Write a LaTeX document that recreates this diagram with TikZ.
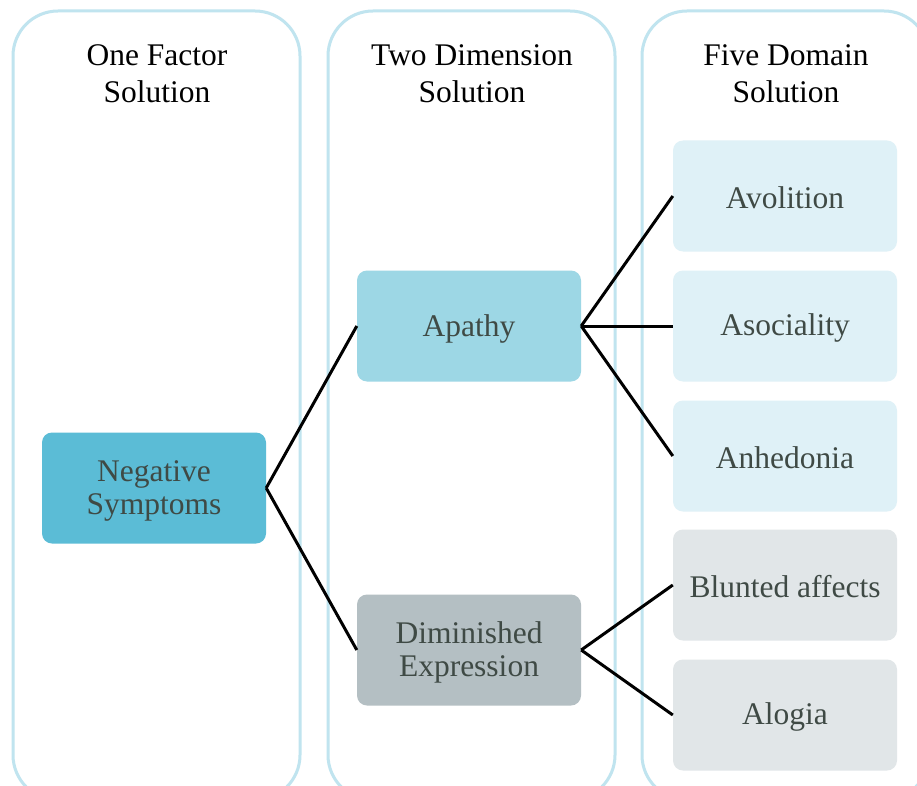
\documentclass[tikz,border=0pt]{standalone}
\usepackage{fontspec}
\setmainfont{Liberation Serif}
\newfontfamily\myserif{Liberation Serif}
\definecolor{colline}{HTML}{C0E4EF}
\definecolor{txtdark}{HTML}{3F4A45}
\definecolor{cNeg}{HTML}{5BBCD6}
\definecolor{cApathy}{HTML}{9DD7E5}
\definecolor{cDim}{HTML}{B4BFC3}
\definecolor{cLight}{HTML}{DFF1F7}
\definecolor{cGrey}{HTML}{E1E6E8}
\begin{document}
\begin{tikzpicture}[x=1pt,y=-1pt,
  column/.style={draw=colline,line width=3pt,rounded corners=45pt},
  box/.style={rounded corners=10pt,minimum width=224pt,minimum height=111pt,inner sep=0pt},
  boxtext/.style={inner sep=0pt,align=center,text=txtdark,font=\myserif\fontsize{31.5}{33}\selectfont},
  title/.style={align=center,text=black,font=\myserif\fontsize{31.5}{37}\selectfont,anchor=north},
  link/.style={line width=3pt,black}]
\useasboundingbox (0,0) rectangle (917,786);
\clip (0,0) rectangle (917,786);
\fill[white] (0,0) rectangle (917,786);
% columns
\draw[column] (13,11) rectangle (300,800);
\draw[column] (328,11) rectangle (615,800);
\draw[column] (642,11) rectangle (929,800);
% titles
\node[title] (t1) at (157,41) {One Factor\\Solution};
\node[title] (t2) at (472,41) {Two Dimension\\Solution};
\node[title] (t3) at (786,41) {Five Domain\\Solution};
% boxes
\node[box,fill=cNeg] (neg) at (154,488) {};
\node[box,fill=cApathy] (apa) at (469,326) {};
\node[box,fill=cDim] (dim) at (469,650) {};
\node[box,fill=cLight] (avo) at (785,196) {};
\node[box,fill=cLight] (aso) at (785,326) {};
\node[box,fill=cLight] (anh) at (785,456) {};
\node[box,fill=cGrey] (blu) at (785,585) {};
\node[box,fill=cGrey] (alo) at (785,715) {};
% box texts
\node[boxtext] (negT) at ([yshift=-2.5pt]neg.center) {Negative\\Symptoms};
\node[boxtext] (apaT) at ([yshift=-3pt]apa.center) {Apathy};
\node[boxtext] (dimT) at ([yshift=-2.5pt]dim.center) {Diminished\\Expression};
\node[boxtext] (avoT) at ([yshift=-1.5pt]avo.center) {Avolition};
\node[boxtext] (asoT) at ([yshift=-1.5pt]aso.center) {Asociality};
\node[boxtext] (anhT) at ([yshift=-1.5pt]anh.center) {Anhedonia};
\node[boxtext] (bluT) at ([yshift=-1.5pt]blu.center) {Blunted affects};
\node[boxtext] (aloT) at ([yshift=-1.5pt]alo.center) {Alogia};
% links
\draw[link] (neg.east) -- (apa.west);
\draw[link] (neg.east) -- (dim.west);
\draw[link] (apa.east) -- (avo.west);
\draw[link] (apa.east) -- (aso.west);
\draw[link] (apa.east) -- (anh.west);
\draw[link] (dim.east) -- (blu.west);
\draw[link] (dim.east) -- (alo.west);
\end{tikzpicture}
\end{document}
